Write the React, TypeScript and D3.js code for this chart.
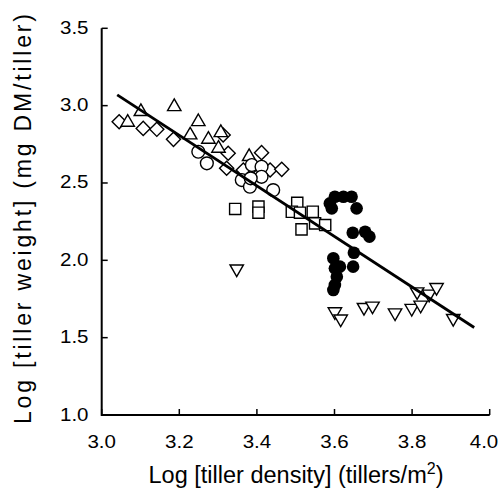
import React from 'react';
import * as d3 from 'd3';

// log tiller density (x) vs log tiller weight (y), one list per marker group
const diamonds: [number, number][] = [
  [3.045, 2.896], [3.107, 2.853], [3.142, 2.847], [3.185, 2.782], [3.313, 2.81],
  [3.326, 2.692], [3.322, 2.595], [3.412, 2.696], [3.365, 2.584], [3.434, 2.584],
  [3.464, 2.588], [3.404, 2.551],
];
const trianglesUp: [number, number][] = [
  [3.067, 2.892], [3.101, 2.961], [3.187, 2.993], [3.249, 2.896], [3.228, 2.81],
  [3.275, 2.782], [3.307, 2.825], [3.301, 2.724], [3.38, 2.67],
];
const openCircles: [number, number][] = [
  [3.249, 2.702], [3.271, 2.627], [3.387, 2.616], [3.412, 2.605], [3.361, 2.519],
  [3.382, 2.476], [3.412, 2.54], [3.442, 2.454], [3.384, 2.53],
];
const squares: [number, number][] = [
  [3.344, 2.332], [3.404, 2.347], [3.404, 2.308], [3.504, 2.372], [3.49, 2.314],
  [3.511, 2.308], [3.544, 2.314], [3.515, 2.2], [3.55, 2.239], [3.576, 2.228],
];
const filledCircles: [number, number][] = [
  [3.588, 2.368], [3.601, 2.411], [3.623, 2.411], [3.644, 2.411], [3.657, 2.336],
  [3.593, 2.336], [3.647, 2.178], [3.679, 2.185], [3.69, 2.153], [3.65, 2.049],
  [3.648, 1.959], [3.597, 2.013], [3.601, 1.948], [3.606, 1.894], [3.601, 1.84],
  [3.597, 1.808], [3.614, 1.959],
];
const trianglesDown: [number, number][] = [
  [3.348, 1.945], [3.601, 1.668], [3.616, 1.621], [3.676, 1.696], [3.698, 1.705],
  [3.756, 1.661], [3.799, 1.69], [3.822, 1.711], [3.813, 1.797], [3.844, 1.782],
  [3.863, 1.825], [3.906, 1.625],
];

// fitted line y = a + b*x
const fitRange = [3.04, 3.96];
const fitIntercept = 8.04;
const fitSlope = -1.635;

const xTicks = [3.0, 3.2, 3.4, 3.6, 3.8, 4.0];
const yTicks = [1.0, 1.5, 2.0, 2.5, 3.0, 3.5];

const W = 504;
const H = 490;
const FONT = '"Liberation Sans", Arial, sans-serif';

const App = () => {
  const x = d3.scaleLinear().domain([3, 4]).range([101.7, 489.7]);
  const y = d3.scaleLinear().domain([1, 3.5]).range([415, 28.3]);

  const tri = d3.symbol().type(d3.symbolTriangle).size(78)();
  const sq = d3.symbol().type(d3.symbolSquare).size(125)();
  const diam = d3.symbol().type(d3.symbolSquare).size(100)();

  const lineGen = d3.line<number>().x(v => x(v)).y(v => y(fitIntercept + fitSlope * v));
  const fmt = d3.format('.1f');

  const open = { fill: 'white', stroke: '#000', strokeWidth: 1.4 };

  return (
    <svg width={W} height={H} style={{ position: 'absolute', left: 0, top: 0, background: '#fff' }}>
      {/* axes */}
      <path d={`M${x(3)},${y(3.5)}V${y(1)}H${x(4)}`} fill="none" stroke="#000" strokeWidth={2} />
      {yTicks.map(t => (
        <g key={'y' + t}>
          <line x1={x(3)} x2={x(3) + 6} y1={y(t)} y2={y(t)} stroke="#000" strokeWidth={1.5} />
          <text x={88.5} y={y(t) + 5.5} textAnchor="end" fontFamily={FONT} fontSize={17.5}
            textLength={28.5} lengthAdjust="spacingAndGlyphs">
            {fmt(t)}
          </text>
        </g>
      ))}
      {xTicks.map(t => (
        <g key={'x' + t}>
          <line x1={x(t)} x2={x(t)} y1={y(1)} y2={y(1) - 6} stroke="#000" strokeWidth={1.5} />
          <text x={Math.min(x(t), 484) - 14.25} y={448} fontFamily={FONT} fontSize={17.5}
            textLength={28.5} lengthAdjust="spacingAndGlyphs">
            {fmt(t)}
          </text>
        </g>
      ))}
      <text x={296} y={483} textAnchor="middle" fontFamily={FONT} fontSize={23.5}>
        Log [tiller density] (tillers/m<tspan dy={-9} fontSize={16}>2</tspan><tspan dy={9}>)</tspan>
      </text>
      <text transform={`translate(31,219) rotate(-90)`} textAnchor="middle" fontFamily={FONT} fontSize={23}
        textLength={410} lengthAdjust="spacing">
        Log [tiller weight] (mg DM/tiller)
      </text>

      {/* markers */}
      {diamonds.map((d, i) => (
        <path key={'d' + i} d={diam!} transform={`translate(${x(d[0])},${y(d[1])}) rotate(45)`} {...open} />
      ))}
      {trianglesUp.map((d, i) => (
        <path key={'t' + i} d={tri!} transform={`translate(${x(d[0])},${y(d[1])})`} {...open} />
      ))}
      {openCircles.map((d, i) => (
        <circle key={'c' + i} cx={x(d[0])} cy={y(d[1])} r={6.4} {...open} />
      ))}
      {squares.map((d, i) => (
        <path key={'s' + i} d={sq!} transform={`translate(${x(d[0])},${y(d[1])})`} {...open} />
      ))}
      {filledCircles.map((d, i) => (
        <circle key={'f' + i} cx={x(d[0])} cy={y(d[1])} r={6.3} fill="#000" />
      ))}
      {trianglesDown.map((d, i) => (
        <path key={'v' + i} d={tri!} transform={`translate(${x(d[0])},${y(d[1])}) rotate(180)`} {...open} />
      ))}

      <path d={lineGen(fitRange) || ''} fill="none" stroke="#000" strokeWidth={2.8} />
    </svg>
  );
};

export default App;
